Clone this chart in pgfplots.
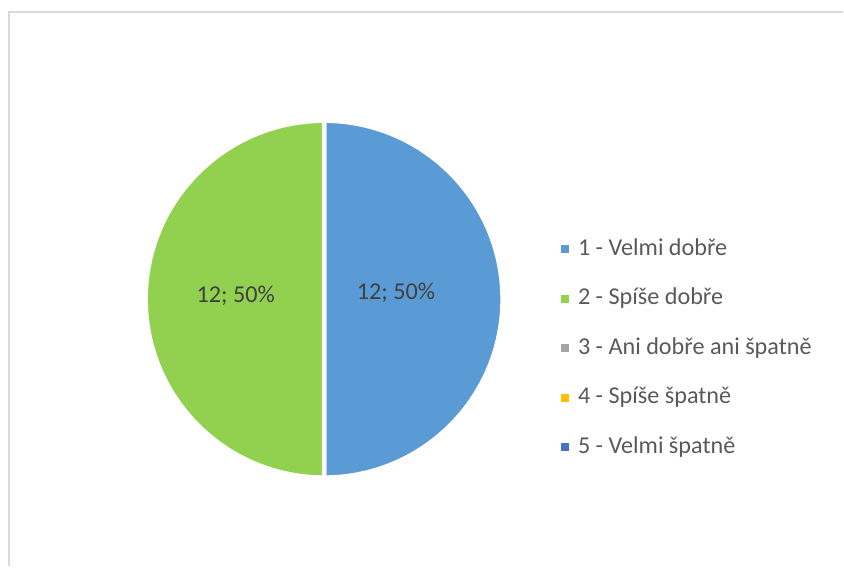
\documentclass[border=0pt]{standalone}
\usepackage{pgfplots}
\pgfplotsset{compat=1.18}
\usepackage{pgfplotstable}
\usepackage{fontspec}
\setmainfont{Carlito}
\definecolor{c1}{HTML}{5B9BD5}
\definecolor{c2}{HTML}{92D050}
\definecolor{c3}{HTML}{A5A5A5}
\definecolor{c4}{HTML}{FFC000}
\definecolor{c5}{HTML}{4472C4}
\definecolor{txt}{HTML}{595959}
\definecolor{lbl}{HTML}{404040}
\definecolor{framec}{HTML}{D9D9D9}

\pgfplotstableread{
id value
1 12
2 12
3 0
4 0
5 0
}\piedata

\pgfplotstablegetelem{0}{value}\of\piedata\edef\va{\pgfplotsretval}
\pgfplotstablegetelem{1}{value}\of\piedata\edef\vb{\pgfplotsretval}
\pgfmathsetmacro\tot{\va+\vb}
\pgfmathsetmacro\aA{90-360*\va/\tot}
\pgfmathsetmacro\aB{\aA-360*\vb/\tot}

\pgfplotsset{
  sqlegend/.style={legend image code/.code={\fill[##1, draw=none] (0pt,-2pt) rectangle (4pt,2pt);}}
}

\begin{document}
\begin{tikzpicture}
\begin{axis}[
  width=422pt, height=283.5pt, scale only axis,
  xmin=0, xmax=844, ymin=0, ymax=567,
  hide axis, clip=false,
  sqlegend,
  legend cell align=left,
  legend style={at={(axis cs:561.7,328.5)}, anchor=north west, draw=none, fill=none,
    inner sep=0pt, outer sep=0pt,
    font=\fontsize{12.1}{14}\selectfont, text=txt,
    row sep=13.8pt, column sep=4.5pt,
    nodes={inner sep=0pt, outer sep=0pt, text height=8.5pt, text depth=2.5pt}},
]
\path (axis cs:0,0) rectangle (axis cs:844,567);
\draw[framec, line width=1pt] (axis cs:9,0) -- (axis cs:9,555.3) -- (axis cs:844,555.3);

\fill[c1, draw=white, line width=2.2pt] (axis cs:324.5,267.5) -- (axis cs:324.5,446.1)
  arc[start angle=90, end angle=\aA, radius=89.3pt] -- cycle;
\fill[c2, draw=white, line width=2.2pt] (axis cs:324.5,267.5) -- (axis cs:324.5,88.9)
  arc[start angle=\aA, end angle=\aB, radius=89.3pt] -- cycle;

\node[anchor=base, text=lbl, font=\fontsize{12.1}{14}\selectfont] at (axis cs:236,263.7) {12; 50\%};
\node[anchor=base, text=lbl, font=\fontsize{12.1}{14}\selectfont] at (axis cs:396.5,267) {12; 50\%};

\addlegendimage{fill=c1}
\addlegendentry{1 - Velmi dobře}
\addlegendimage{fill=c2}
\addlegendentry{2 - Spíše dobře}
\addlegendimage{fill=c3}
\addlegendentry{3 - Ani dobře ani špatně}
\addlegendimage{fill=c4}
\addlegendentry{4 - Spíše špatně}
\addlegendimage{fill=c5}
\addlegendentry{5 - Velmi špatně}
\end{axis}
\end{tikzpicture}
\end{document}
